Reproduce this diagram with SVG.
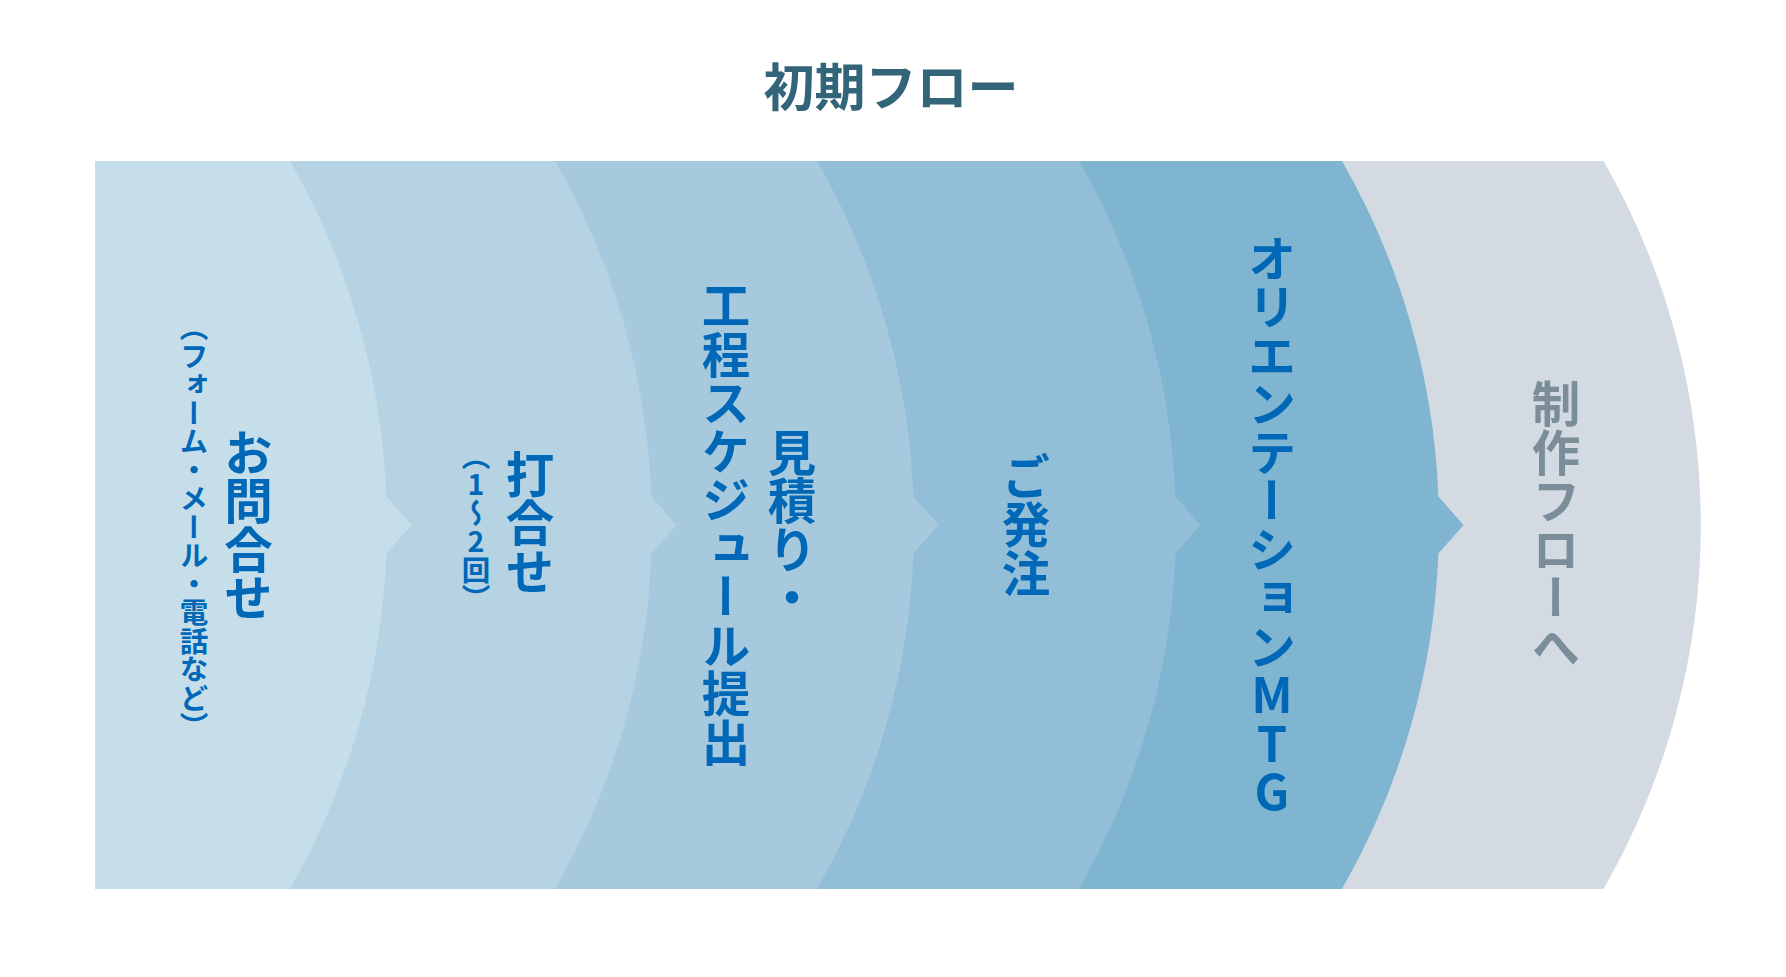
<svg xmlns="http://www.w3.org/2000/svg" width="1786" height="977" viewBox="0 0 1786 977">
<style>
.t{font-family:"Noto Sans CJK JP","Noto Sans CJK SC",sans-serif;font-weight:700;writing-mode:vertical-rl;text-anchor:middle;fill:#0068b7}
.m{font-size:48.5px}
.s{font-size:28.5px}
.up{text-orientation:upright}
.g{fill:#7b8d98}
.title{font-family:"Noto Sans CJK JP","Noto Sans CJK SC",sans-serif;font-weight:700;font-size:51px;fill:#32647a;text-anchor:middle}
</style>
<rect width="1786" height="977" fill="#ffffff"/>
<text class="title" x="891" y="106">初期フロー</text>
<g id="connectors"></g>
<g id="step6">
<path d="M95,161 L1603.5,161 A729.6,729.6 0 0 1 1603.5,889 L95,889 Z" fill="#d3dae1"/>
<text class="t m g" x="1556" y="525">制作フローへ</text>
</g>
<g id="step5">
<path d="M95,161 L1342,161 A729.6,729.6 0 0 1 1438.4,496.5 L1463.5,525 L1438.4,553.5 A729.6,729.6 0 0 1 1342,889 L95,889 Z" fill="#80b5d1"/>
<text class="t m up" x="1272" y="525">オリエンテーションMTG</text>
</g>
<g id="step4">
<path d="M95,161 L1079,161 A729.6,729.6 0 0 1 1175.4,496.5 L1200.5,525 L1175.4,553.5 A729.6,729.6 0 0 1 1079,889 L95,889 Z" fill="#92bfd7"/>
<text class="t m" x="1026" y="525">ご発注</text>
</g>
<g id="step3">
<path d="M95,161 L817,161 A729.6,729.6 0 0 1 913.4,496.5 L938.5,525 L913.4,553.5 A729.6,729.6 0 0 1 817,889 L95,889 Z" fill="#a6c9dd"/>
<text class="t m" x="792" y="525">見積り・</text>
<text class="t m" x="726" y="524">工程スケジュール提出</text>
</g>
<g id="step2">
<path d="M95,161 L555,161 A729.6,729.6 0 0 1 651.4,496.5 L676.5,525 L651.4,553.5 A729.6,729.6 0 0 1 555,889 L95,889 Z" fill="#b6d3e3"/>
<text class="t m" x="530" y="523">打合せ</text>
<text class="t s up" x="476" y="527">（1～2回）</text>
</g>
<g id="step1">
<path d="M95,161 L290,161 A729.6,729.6 0 0 1 386.4,496.5 L411.5,525 L386.4,553.5 A729.6,729.6 0 0 1 290,889 L95,889 Z" fill="#c5deea"/>
<text class="t m" x="248.5" y="525">お問合せ</text>
<text class="t s" x="194" y="527">（フォーム・メール・電話など）</text>
</g>
</svg>
